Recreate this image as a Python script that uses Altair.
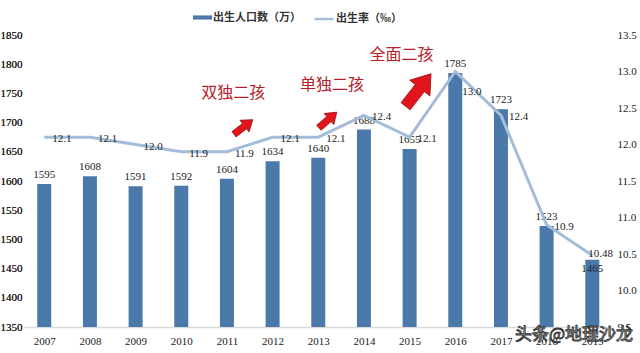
import altair as alt
import pandas as pd

years = [2007, 2008, 2009, 2010, 2011, 2012, 2013, 2014, 2015, 2016, 2017, 2018, 2019]
births = [1595, 1608, 1591, 1592, 1604, 1634, 1640, 1688, 1655, 1785, 1723, 1523, 1465]
rates = [12.1, 12.1, 12.0, 11.9, 11.9, 12.1, 12.1, 12.4, 12.1, 13.0, 12.4, 10.9, 10.48]
rate_text = ["12.1", "12.1", "12.0", "11.9", "11.9", "12.1", "12.1", "12.4", "12.1", "13.0", "12.4", "10.9", "10.48"]

# policy annotations (placed in data units: year, births)
note_text = ["双独二孩", "单独二孩", "全面二孩"]
note_year = [2011.14, 2013.30, 2014.82]
note_val = [1750.7, 1764.4, 1815.8]

arrow_year = [2011.36, 2013.21, 2015.19]
arrow_val = [1692.5, 1704.5, 1755.8]
arrow_angle = [52, 49, 38]
arrow_size = [560, 560, 1700]

wm_text = ["头条@地理沙龙"]
wm_year = [2018.6]
wm_val = [1336]

bar_color = "#4a79a9"
line_color = "#a3bdd8"
red = "#e3151c"

df = pd.DataFrame({"year": years, "births": births, "rate": rates, "rlabel": rate_text})
notes = pd.DataFrame({"year": note_year, "births": note_val, "text": note_text})
arrows = pd.DataFrame({"year": arrow_year, "births": arrow_val, "angle": arrow_angle, "size": arrow_size})
wm = pd.DataFrame({"year": wm_year, "births": wm_val, "text": wm_text})

serif = "Liberation Serif"
cjk = "Noto Sans CJK SC"

xaxis = alt.Axis(values=years, format="d", title=None, labelFont=serif, labelFontSize=11,
                 labelColor="#222", ticks=False, domainColor="#d9d9d9", domainWidth=1.5,
                 labelPadding=8, grid=False, labelFlush=False)
xscale = alt.Scale(domain=[2006.666, 2019.322], nice=False, zero=False)
X = alt.X("year:Q", scale=xscale, axis=xaxis)

laxis = alt.Axis(values=list(range(1350, 1851, 50)), format="d", title=None, labelFont=serif,
                 labelFontSize=11, labelColor="#222", ticks=False, domain=False, grid=False,
                 labelPadding=2)
lscale = alt.Scale(domain=[1350, 1850], nice=False, zero=False)
YL = alt.Y("births:Q", scale=lscale, axis=laxis)

raxis = alt.Axis(values=[9.5, 10.0, 10.5, 11.0, 11.5, 12.0, 12.5, 13.0, 13.5], format=".1f", title=None,
                 orient="right", labelFont=serif, labelFontSize=11, labelColor="#222", ticks=False,
                 domain=False, grid=False, labelPadding=5)
rscale = alt.Scale(domain=[9.5, 13.5], nice=False, zero=False)
YR = alt.Y("rate:Q", scale=rscale, axis=raxis)

base = alt.Chart(df)

bars = base.mark_bar(size=14, clip=True).transform_calculate(s="'出生人口数（万）'").encode(
    x=X, y=YL,
    color=alt.Color("s:N", scale=alt.Scale(domain=["出生人口数（万）"], range=[bar_color]),
                    legend=alt.Legend(orient="none", legendX=169, legendY=-27, title=None,
                                      symbolType="M-1,-0.22H1V0.22H-1Z", symbolSize=361,
                                      symbolStrokeWidth=0, labelFont=cjk, labelFontSize=11,
                                      labelColor="#333", labelOffset=1, padding=0,
                                      labelFontWeight="bold")),
)

bar_labels = base.transform_filter("datum.year != 2019").mark_text(
    baseline="bottom", dy=-4, font=serif, fontSize=11, color="#222").encode(
    x=X, y=YL, text=alt.Text("births:Q", format="d"))
bar_label_19 = base.transform_filter("datum.year == 2019").mark_text(
    baseline="top", dy=3, font=serif, fontSize=11, color="#222").encode(
    x=X, y=YL, text=alt.Text("births:Q", format="d"))

arrow_path = "M-0.28,1L-0.28,-0.12L-0.62,-0.12L0,-1L0.62,-0.12L0.28,-0.12L0.28,1Z"
arrow_marks = alt.Chart(arrows).mark_point(shape=arrow_path, filled=True, fill=red, stroke="#a00d12",
                                           strokeWidth=0.8, opacity=1).encode(
    x=X, y=YL, angle=alt.Angle("angle:Q", scale=None), size=alt.Size("size:Q", scale=None, legend=None))

note_marks = alt.Chart(notes).mark_text(font=cjk, fontSize=16, color="#b8202a", baseline="middle").encode(
    x=X, y=YL, text="text:N")

wm_marks = alt.Chart(wm).mark_text(font=cjk, fontSize=17, fill="#f4f4f4", stroke="#333", strokeWidth=0.9,
                                   baseline="middle").encode(x=X, y=YL, text="text:N")

line = base.mark_line(strokeWidth=3).transform_calculate(s2="'出生率（‰）'").encode(
    x=X, y=YR,
    stroke=alt.Stroke("s2:N", scale=alt.Scale(domain=["出生率（‰）"], range=[line_color]),
                      legend=alt.Legend(orient="none", legendX=289, legendY=-27, title=None,
                                        symbolType="stroke", symbolSize=361, symbolStrokeWidth=2.5,
                                        labelFont=cjk, labelFontSize=11, labelColor="#333",
                                        labelOffset=1, padding=0, labelFontWeight="bold")),
)

rl_main = base.transform_filter("datum.year != 2016 && datum.year != 2019").mark_text(
    align="left", baseline="middle", dx=8, dy=2, font=serif, fontSize=11, color="#222").encode(
    x=X, y=YR, text="rlabel:N")
rl_16 = base.transform_filter("datum.year == 2016").mark_text(
    align="left", baseline="middle", dx=7, dy=20, font=serif, fontSize=11, color="#222").encode(
    x=X, y=YR, text="rlabel:N")
rl_19 = base.transform_filter("datum.year == 2019").mark_text(
    align="left", baseline="middle", dx=-4, dy=-1, font=serif, fontSize=11, color="#222").encode(
    x=X, y=YR, text="rlabel:N")

left = alt.layer(bars, bar_labels, bar_label_19, arrow_marks, note_marks)
right = alt.layer(line, rl_main, rl_16, rl_19)

chart = alt.layer(left, right, wm_marks).resolve_scale(y="independent", color="independent").properties(
    width=588, height=292,
    autosize=alt.AutoSizeParams(type="none"),
    padding={"left": 24, "top": 35, "right": 28, "bottom": 26},
    background="white",
).configure_view(stroke=None)

chart.save("out.html", embed_options={"renderer": "svg", "actions": False})
